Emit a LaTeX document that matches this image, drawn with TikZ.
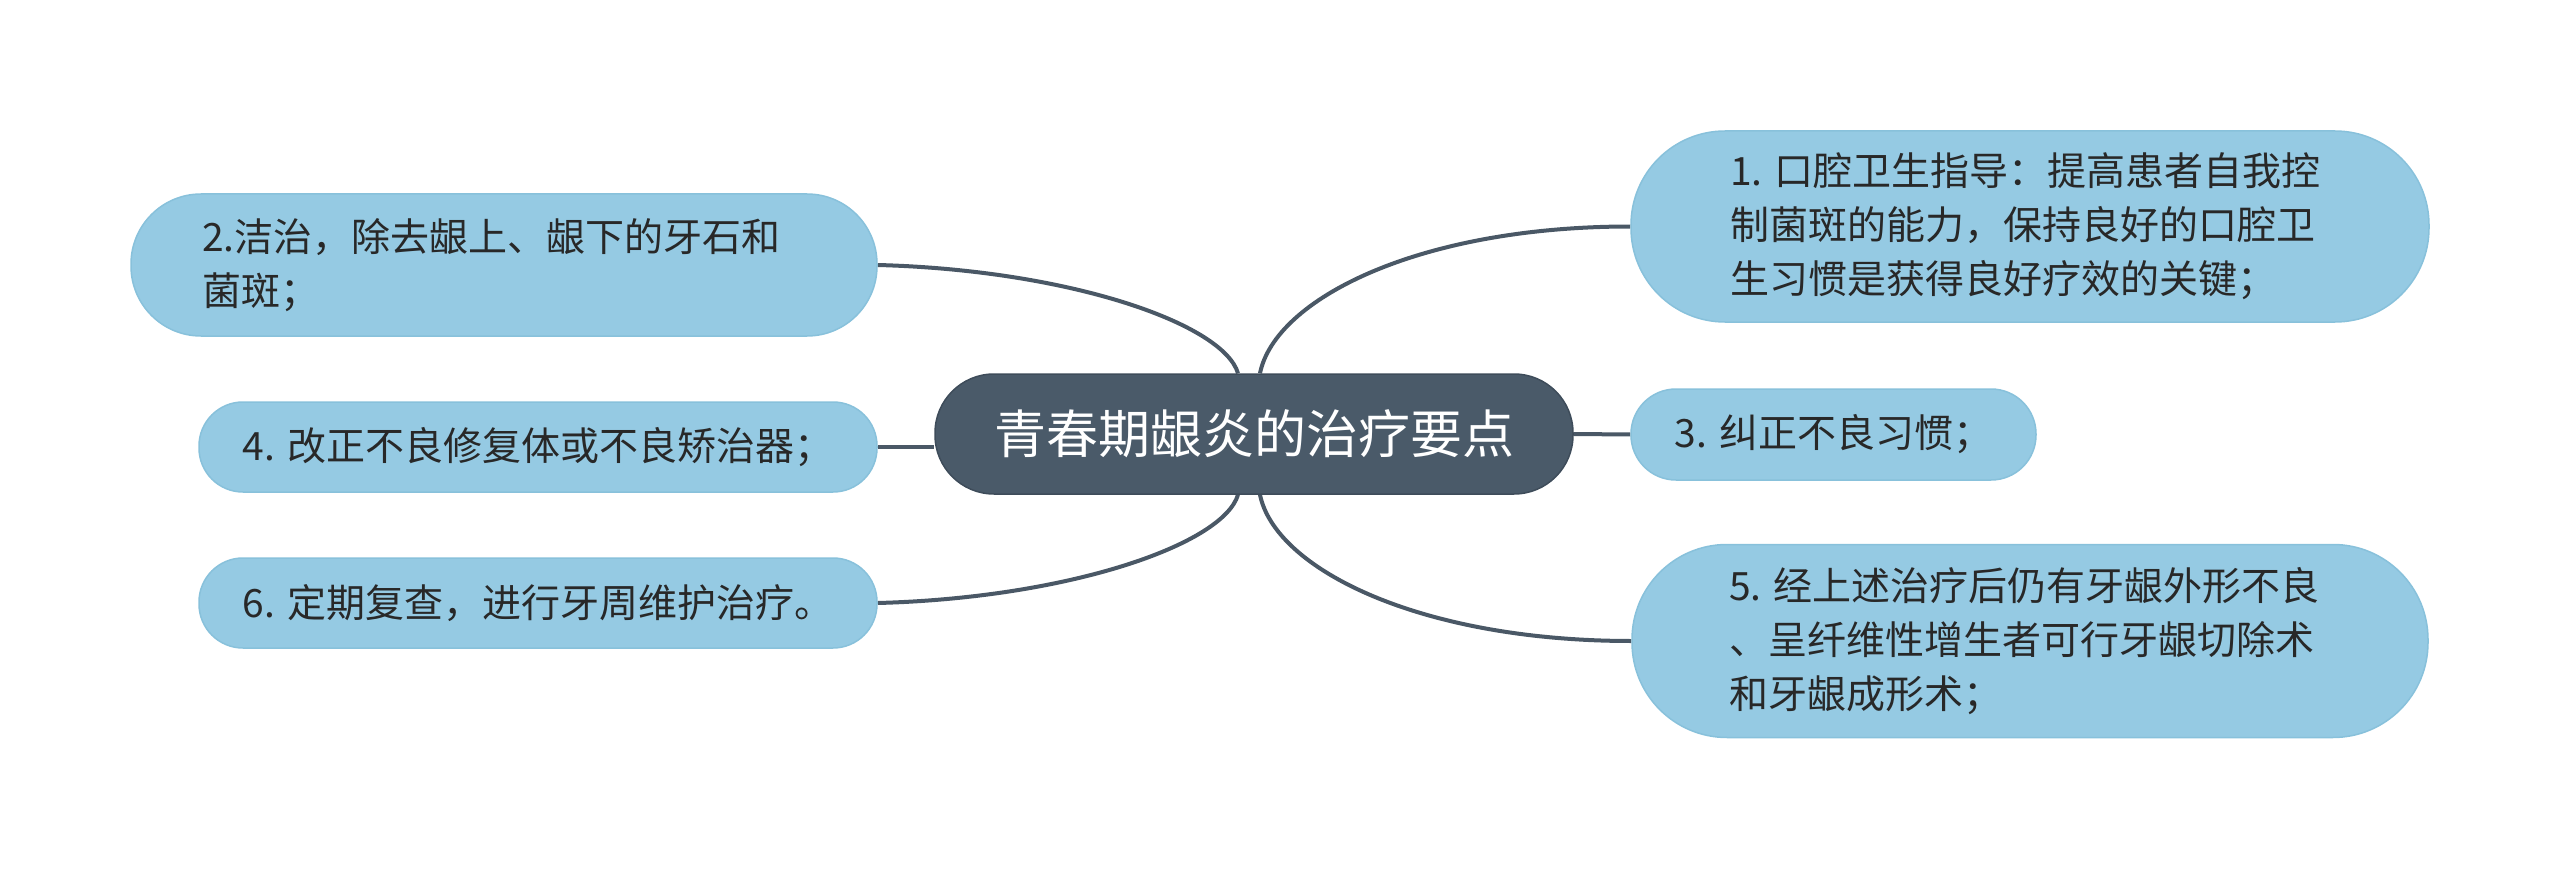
\documentclass[tikz,border=0pt]{standalone}
\usepackage{fontspec}
\newfontfamily\cjk{Noto Sans CJK SC}
\usetikzlibrary{backgrounds}
\definecolor{leaffill}{RGB}{149,202,227}
\definecolor{leafdraw}{RGB}{136,193,219}
\definecolor{rootfill}{RGB}{74,90,105}
\definecolor{rootdraw}{RGB}{62,76,90}
\definecolor{linkcol}{RGB}{74,88,102}
\definecolor{txt}{RGB}{40,40,40}
\begin{document}
\begin{tikzpicture}[x=1pt,y=-1pt,
  leaf/.style={rectangle, fill=leaffill, draw=leafdraw, line width=1.5pt, text=txt,
    font=\cjk\fontsize{39}{54}\selectfont, inner sep=0pt},
  root/.style={rectangle, fill=rootfill, draw=rootdraw, line width=1.5pt, text=white,
    font=\cjk\fontsize{52}{60}\selectfont, inner sep=0pt},
  link/.style={draw=linkcol, line width=4pt}]
\useasboundingbox (0,0) rectangle (2560,869);

\node[root, minimum width=638pt, minimum height=120pt, rounded corners=59pt] (n0) at (1254,434) {青春期龈炎的治疗要点};

\node[leaf, minimum width=798pt, minimum height=191pt, rounded corners=94pt] (n1) at (2030,226.5)
  {\parbox{620pt}{\raggedright 1. 口腔卫生指导：提高患者自我控\\制菌斑的能力，保持良好的口腔卫\\生习惯是获得良好疗效的关键；}\hspace*{-20pt}};

\node[leaf, minimum width=746pt, minimum height=142pt, rounded corners=70pt] (n2) at (504,265)
  {\parbox{590pt}{\raggedright 2.洁治，除去龈上、龈下的牙石和\\菌斑；}\hspace*{14pt}};

\node[leaf, minimum width=405pt, minimum height=91pt, rounded corners=45pt] (n3) at (1833.5,434.5)
  {3. 纠正不良习惯；};

\node[leaf, minimum width=678pt, minimum height=90pt, rounded corners=44pt] (n4) at (538,447)
  {4. 改正不良修复体或不良矫治器；};

\node[leaf, minimum width=796pt, minimum height=193pt, rounded corners=95pt] (n5) at (2030,641)
  {\parbox{620pt}{\raggedright 5. 经上述治疗后仍有牙龈外形不良\\、呈纤维性增生者可行牙龈切除术\\和牙龈成形术；}\hspace*{-18pt}};

\node[leaf, minimum width=678pt, minimum height=90pt, rounded corners=44pt] (n6) at (538,603)
  {6. 定期复查，进行牙周维护治疗。};

\begin{pgfonlayer}{background}
\fill[white] (0,0) rectangle (2560,869);
\draw[link] ([xshift=6pt]n0.north) .. controls +(15,-74) and +(-212,0) .. (n1.west);
\draw[link] ([xshift=-16pt]n0.north) .. controls +(-15,-50) and +(190,5) .. (n2.east);
\draw[link] (n0.east) -- (n3.west);
\draw[link] (n4.east) -- (n4.east -| n0.west);
\draw[link] ([xshift=6pt]n0.south) .. controls +(15,74) and +(-212,0) .. (n5.west);
\draw[link] ([xshift=-16pt]n0.south) .. controls +(-15,50) and +(190,-5) .. (n6.east);
\end{pgfonlayer}
\end{tikzpicture}
\end{document}
